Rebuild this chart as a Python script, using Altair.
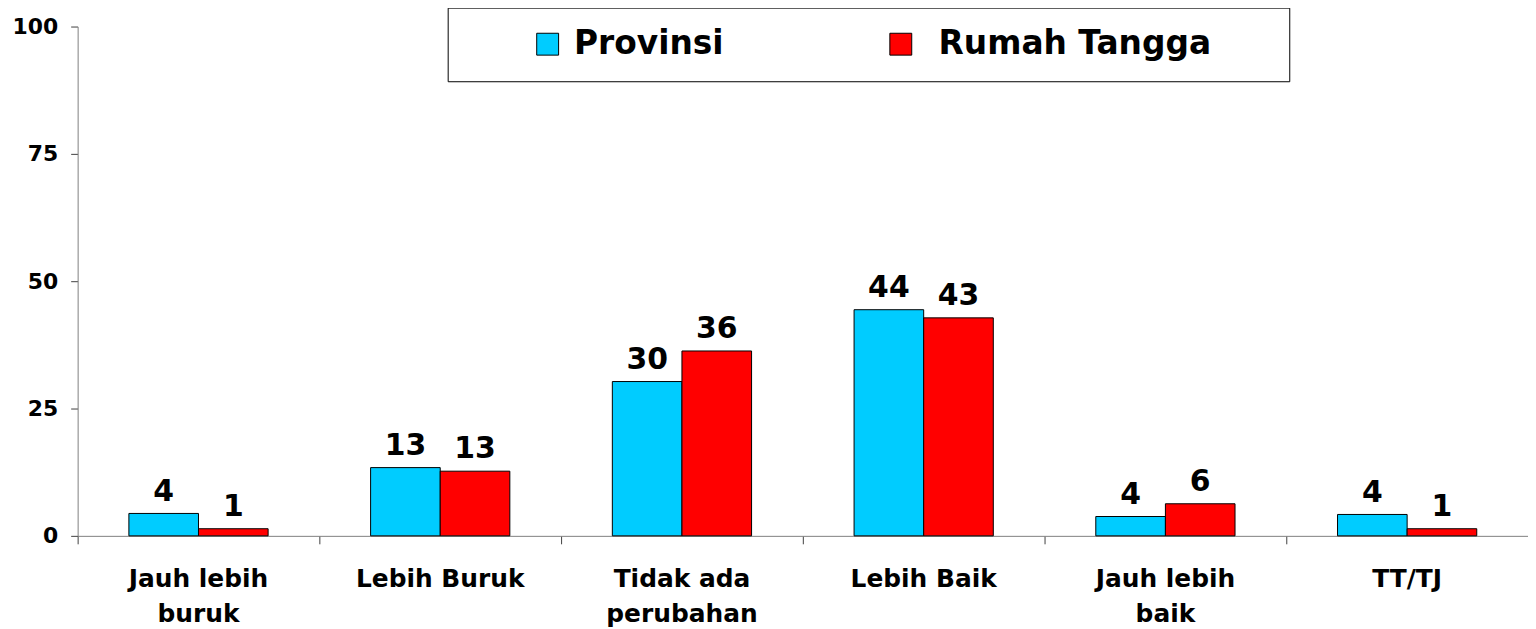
import altair as alt
import pandas as pd

categories = ["Jauh lebih\nburuk", "Lebih Buruk", "Tidak ada\nperubahan", "Lebih Baik", "Jauh lebih\nbaik", "TT/TJ"]
series = ["Provinsi", "Rumah Tangga"]
provinsi = [4.4, 13.4, 30.3, 44.4, 3.8, 4.2]
rumah_tangga = [1.4, 12.7, 36.3, 42.8, 6.3, 1.4]
y_ticks = [0, 25, 50, 75, 100]
colors = ["#00CCFF", "#FF0000"]

rows = []
for c, p, r in zip(categories, provinsi, rumah_tangga):
    rows.append({"kategori": c, "seri": series[0], "nilai": p})
    rows.append({"kategori": c, "seri": series[1], "nilai": r})
df = pd.DataFrame(rows)

FONT = "DejaVu Sans"
NB = "\u00a0"
ZW = "\u200b"

x_enc = alt.X(
    "kategori:N",
    sort=categories,
    scale=alt.Scale(paddingInner=0.424, paddingOuter=0.212),
    axis=alt.Axis(
        title=None,
        labelAngle=0,
        bandPosition=-0.368,
        tickSize=8,
        grid=False,
        labelExpr="split(datum.label, '\\n')",
        labelFont=FONT,
        labelFontSize=25,
        labelFontWeight="bold",
        labelColor="black",
        labelLineHeight=35,
        labelBaseline="alphabetic",
        labelPadding=43,
        labelLimit=400,
        domainColor="#808080",
        tickColor="#404040",
    ),
)
xoff_enc = alt.XOffset("seri:N", sort=series, scale=alt.Scale(paddingInner=0, paddingOuter=0))
y_enc = alt.Y(
    "nilai:Q",
    scale=alt.Scale(domain=[0, 100]),
    axis=alt.Axis(
        title=None,
        values=y_ticks,
        grid=False,
        tickSize=7,
        labelPadding=13,
        labelFont=FONT,
        labelFontSize=22,
        labelFontWeight="bold",
        labelColor="black",
        domainColor="#808080",
        tickColor="#404040",
    ),
)

legend = alt.Legend(
    title=NB,
    titleOrient="left",
    titleFontSize=10,
    titlePadding=64,
    orient="none",
    legendX=372,
    legendY=-19,
    direction="horizontal",
    padding=20,
    strokeColor="#000000",
    fillColor="white",
    symbolType="square",
    symbolSize=484,
    symbolStrokeColor="#000000",
    symbolStrokeWidth=1,
    labelFont=FONT,
    labelFontSize=33,
    labelFontWeight="bold",
    labelColor="black",
    labelOffset=10,
    labelLimit=700,
    columnPadding=161,
    labelExpr="datum.label == 'Rumah Tangga' ? '" + ZW + NB + "Rumah Tangga" + NB * 5 + ZW + "' : datum.label",
)

bars = alt.Chart(df).mark_bar(stroke="#000000", strokeWidth=1).encode(
    x=x_enc,
    xOffset=xoff_enc,
    y=y_enc,
    color=alt.Color("seri:N", scale=alt.Scale(domain=series, range=colors), legend=legend),
)

texts = alt.Chart(df).mark_text(
    dy=-13, baseline="alphabetic", fontSize=30, fontWeight="bold", font=FONT, color="black"
).encode(
    x=x_enc,
    xOffset=xoff_enc,
    y=y_enc,
    text=alt.Text("nilai:Q", format=".0f"),
)

chart = (
    alt.layer(bars, texts)
    .properties(
        width=1458,
        height=512,
        padding={"left": 70, "top": 17, "right": 0, "bottom": 92},
        autosize=alt.AutoSizeParams(type="none"),
        background="white",
    )
    .configure_view(stroke=None, strokeWidth=0)
    .configure_axis(grid=False)
)

chart.save("out.html", embed_options={"renderer": "svg", "actions": False})
